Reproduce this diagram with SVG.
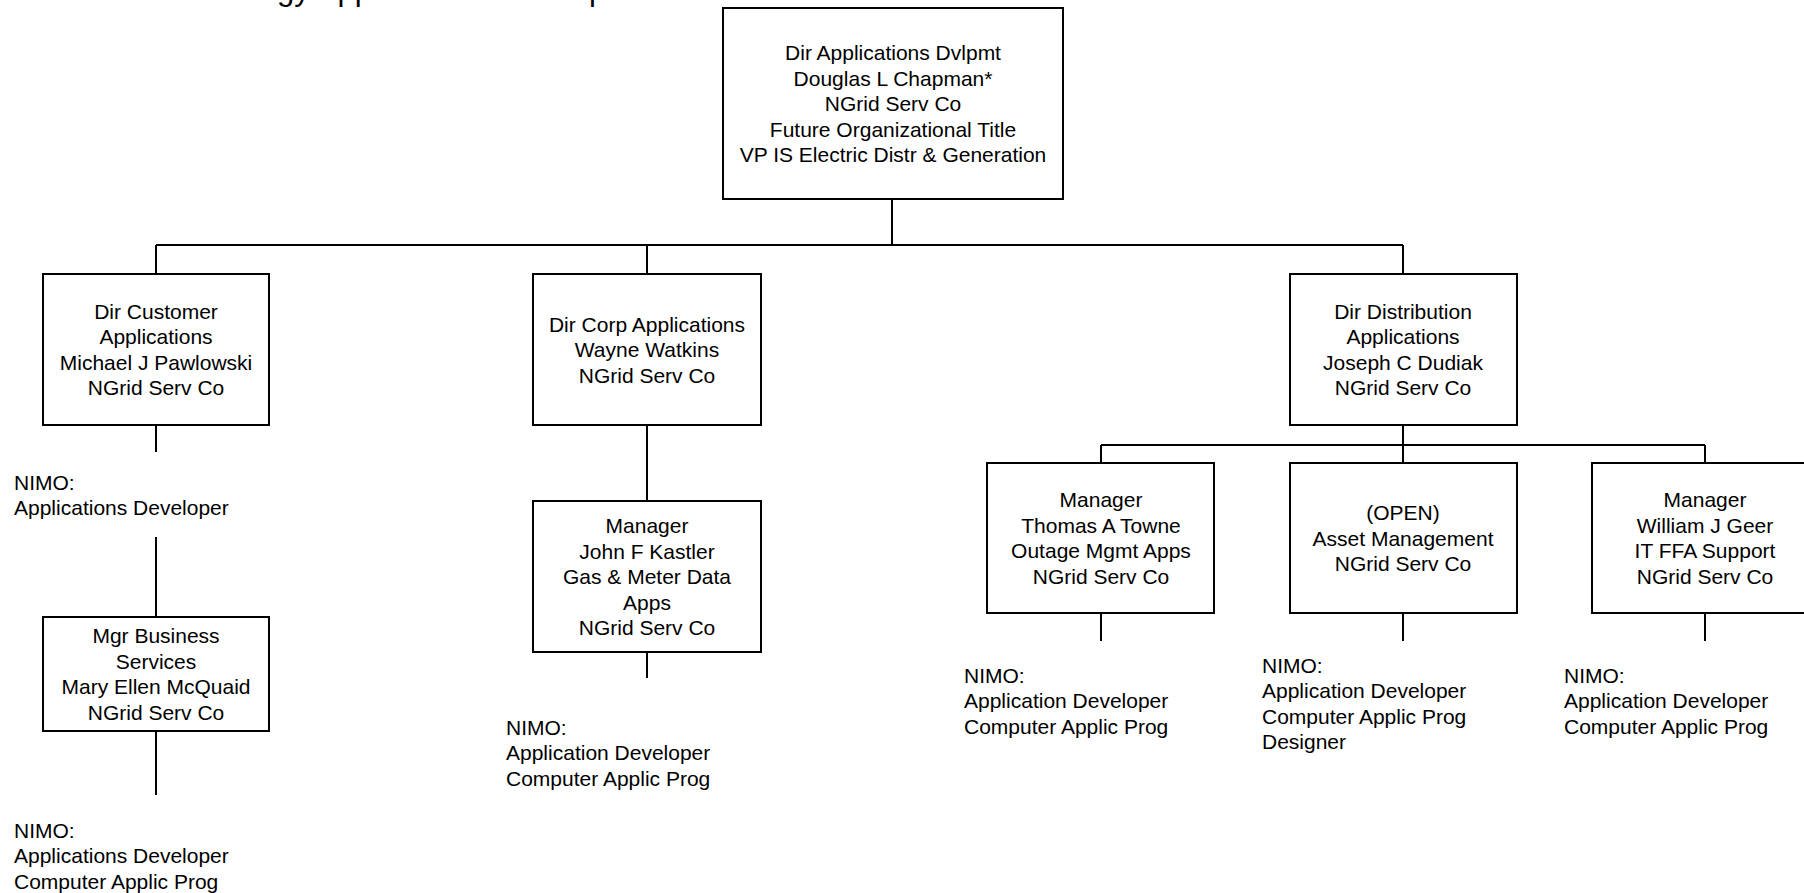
<svg xmlns="http://www.w3.org/2000/svg" width="1804" height="893" viewBox="0 0 1804 893">
<style>
.box{fill:#fff;stroke:#000;stroke-width:2}
.ln{fill:none;stroke:#000;stroke-width:2}
text{font-family:"Liberation Sans",Arial,sans-serif;font-size:21px;fill:#000}
.c{text-anchor:middle}
</style>
<rect x="0" y="0" width="1804" height="893" fill="#fff"/>
<text x="153" y="0" style="font-size:31px">Technology Applications Development</text>
<g id="connectors">
<path class="ln" d="M892,199V245M156,245H1403M156,245V274M647,245V274M1403,245V274"/>
<path class="ln" d="M156,425V452M156,537V617M156,731V795"/>
<path class="ln" d="M647,425V501M647,652V678"/>
<path class="ln" d="M1403,425V445M1101,445H1705M1101,445V463M1403,445V463M1705,445V463"/>
<path class="ln" d="M1101,613V641M1403,613V641M1705,613V641"/>
</g>
<g id="n-chapman">
<rect class="box" x="723" y="8" width="340" height="191"/>
<text class="c" x="893" y="60"><tspan x="893">Dir Applications Dvlpmt</tspan><tspan x="893" dy="25.5">Douglas L Chapman*</tspan><tspan x="893" dy="25.5">NGrid Serv Co</tspan><tspan x="893" dy="25.5">Future Organizational Title</tspan><tspan x="893" dy="25.5">VP IS Electric Distr &amp; Generation</tspan></text>
</g>
<g id="n-pawlowski">
<rect class="box" x="43" y="274" width="226" height="151"/>
<text class="c" y="318.75"><tspan x="156">Dir Customer</tspan><tspan x="156" dy="25.5">Applications</tspan><tspan x="156" dy="25.5">Michael J Pawlowski</tspan><tspan x="156" dy="25.5">NGrid Serv Co</tspan></text>
</g>
<g id="t-cust1">
<text y="489.5"><tspan x="14">NIMO:</tspan><tspan x="14" dy="25.5">Applications Developer</tspan></text>
</g>
<g id="n-mcquaid">
<rect class="box" x="43" y="617" width="226" height="114"/>
<text class="c" y="643.25"><tspan x="156">Mgr Business</tspan><tspan x="156" dy="25.5">Services</tspan><tspan x="156" dy="25.5">Mary Ellen McQuaid</tspan><tspan x="156" dy="25.5">NGrid Serv Co</tspan></text>
</g>
<g id="t-cust2">
<text y="837.5"><tspan x="14">NIMO:</tspan><tspan x="14" dy="25.5">Applications Developer</tspan><tspan x="14" dy="25.5">Computer Applic Prog</tspan></text>
</g>
<g id="n-watkins">
<rect class="box" x="533" y="274" width="228" height="151"/>
<text class="c" y="331.5"><tspan x="647">Dir Corp Applications</tspan><tspan x="647" dy="25.5">Wayne Watkins</tspan><tspan x="647" dy="25.5">NGrid Serv Co</tspan></text>
</g>
<g id="n-kastler">
<rect class="box" x="533" y="501" width="228" height="151"/>
<text class="c" y="533"><tspan x="647">Manager</tspan><tspan x="647" dy="25.5">John F Kastler</tspan><tspan x="647" dy="25.5">Gas &amp; Meter Data</tspan><tspan x="647" dy="25.5">Apps</tspan><tspan x="647" dy="25.5">NGrid Serv Co</tspan></text>
</g>
<g id="t-corp">
<text y="734.5"><tspan x="506">NIMO:</tspan><tspan x="506" dy="25.5">Application Developer</tspan><tspan x="506" dy="25.5">Computer Applic Prog</tspan></text>
</g>
<g id="n-dudiak">
<rect class="box" x="1290" y="274" width="227" height="151"/>
<text class="c" y="318.75"><tspan x="1403">Dir Distribution</tspan><tspan x="1403" dy="25.5">Applications</tspan><tspan x="1403" dy="25.5">Joseph C Dudiak</tspan><tspan x="1403" dy="25.5">NGrid Serv Co</tspan></text>
</g>
<g id="n-towne">
<rect class="box" x="987" y="463" width="227" height="150"/>
<text class="c" y="507.25"><tspan x="1101">Manager</tspan><tspan x="1101" dy="25.5">Thomas A Towne</tspan><tspan x="1101" dy="25.5">Outage Mgmt Apps</tspan><tspan x="1101" dy="25.5">NGrid Serv Co</tspan></text>
</g>
<g id="t-towne">
<text y="682.5"><tspan x="964">NIMO:</tspan><tspan x="964" dy="25.5">Application Developer</tspan><tspan x="964" dy="25.5">Computer Applic Prog</tspan></text>
</g>
<g id="n-open">
<rect class="box" x="1290" y="463" width="227" height="150"/>
<text class="c" y="520"><tspan x="1403">(OPEN)</tspan><tspan x="1403" dy="25.5">Asset Management</tspan><tspan x="1403" dy="25.5">NGrid Serv Co</tspan></text>
</g>
<g id="t-open">
<text y="672.5"><tspan x="1262">NIMO:</tspan><tspan x="1262" dy="25.5">Application Developer</tspan><tspan x="1262" dy="25.5">Computer Applic Prog</tspan><tspan x="1262" dy="25.5">Designer</tspan></text>
</g>
<g id="n-geer">
<rect class="box" x="1592" y="463" width="227" height="150"/>
<text class="c" y="507.25"><tspan x="1705">Manager</tspan><tspan x="1705" dy="25.5">William J Geer</tspan><tspan x="1705" dy="25.5">IT FFA Support</tspan><tspan x="1705" dy="25.5">NGrid Serv Co</tspan></text>
</g>
<g id="t-geer">
<text y="682.5"><tspan x="1564">NIMO:</tspan><tspan x="1564" dy="25.5">Application Developer</tspan><tspan x="1564" dy="25.5">Computer Applic Prog</tspan></text>
</g>
</svg>
